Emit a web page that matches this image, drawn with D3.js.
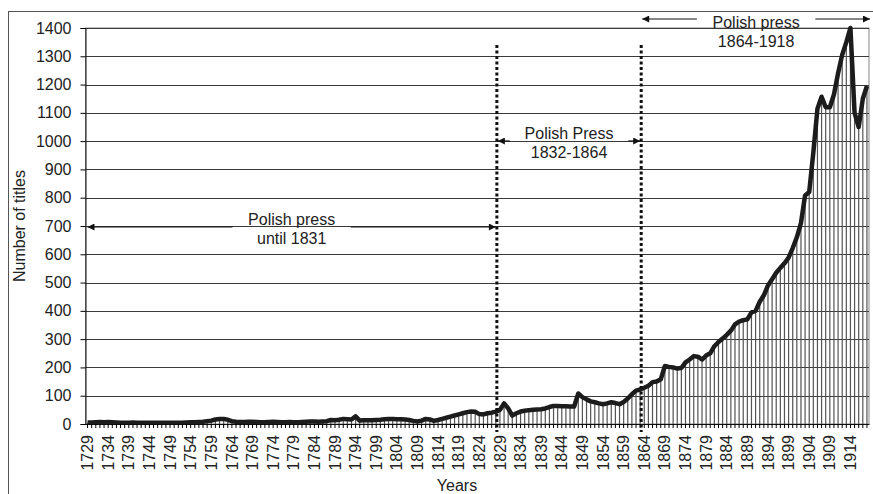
<!DOCTYPE html>
<html>
<head>
<meta charset="utf-8">
<script src="https://cdn.jsdelivr.net/npm/d3@7"></script>
<style>
  body { margin: 0; background: #fff; }
  text { font-family: "Liberation Sans", Arial, sans-serif; fill: #222; }
</style>
</head>
<body>
<div id="chart"></div>
<script>
// data: number of titles per year, split by period
const firstYear = 1729;
const titlesEarly = [5, 5, 6, 7, 6, 7, 6, 5, 4, 4,
  4, 5, 4, 4, 4, 4, 4, 4, 4, 4,
  4, 4, 4, 4, 5, 6, 6, 7, 8, 10,
  12, 16, 18, 18, 15, 10, 8, 7, 7, 8,
  8, 7, 6, 6, 7, 8, 7, 6, 6, 7];               // 1729-1778
const titlesUntil1831 = [6, 6, 7, 8, 9, 9, 8, 9, 10, 14,
  13, 15, 18, 17, 16, 27, 12, 13, 13, 13,
  14, 15, 17, 18, 18, 17, 17, 16, 14, 11,
  9, 12, 18, 16, 11, 14, 18, 22, 26, 30,
  34, 38, 42, 44, 43, 35, 34, 38, 40, 44,
  50, 73, 55];                                   // 1779-1831
const titles1832to1863 = [30, 38, 44, 47, 49, 50, 51, 52, 55, 60,
  64, 64, 63, 63, 62, 62, 108, 95, 87, 80,
  77, 73, 70, 73, 77, 74, 70, 78, 90, 105,
  118, 122];
const titles1864to1918 = [128, 135, 148, 150, 158, 205, 202, 200, 196, 198,
  218, 228, 240, 238, 228, 242, 250, 275, 290, 302,
  315, 330, 352, 362, 367, 370, 395, 400, 432, 455,
  490, 512, 535, 552, 568, 588, 622, 660, 710, 808,
  820, 960, 1115, 1157, 1120, 1120, 1165, 1240, 1305, 1350,
  1400, 1100, 1050, 1150, 1195];

const titles = titlesEarly.concat(titlesUntil1831, titles1832to1863, titles1864to1918);
const years = titles.map((v, i) => firstYear + i);
const data = years.map((y, i) => ({year: y, value: titles[i]}));

const yTicks = d3.range(0, 1401, 100);
const labelYears = years.filter(y => (y - firstYear) % 5 === 0);

// period annotations
const periods = [
  {from: 1729, to: 1829, lines: ["Polish press", "until 1831"], cy: 227, ty: 219},
  {from: 1829, to: 1864, lines: ["Polish Press", "1832-1864"], cy: 141, ty: 133},
  {from: 1864, to: 1919, lines: ["Polish press", "1864-1918"], cy: 19, ty: 22}
];
const dividers = [1829, 1864];

const W = 873, H = 494;
const margin = {top: 28, right: 4, bottom: 70, left: 85.5};
const width = 869 - margin.left, height = 424 - margin.top;

const svgRoot = d3.select("#chart").append("svg")
  .attr("width", W).attr("height", H);

// outer frame
svgRoot.append("rect")
  .attr("x", 8.5).attr("y", 11.5)
  .attr("width", 870).attr("height", 490)
  .attr("fill", "none").attr("stroke", "#555").attr("stroke-width", 1);

const svg = svgRoot.append("g")
  .attr("transform", `translate(${margin.left}, ${margin.top})`);

const x = d3.scaleBand()
  .domain(years)
  .range([0, width])
  .padding(0);

const y = d3.scaleLinear()
  .domain([0, 1400])
  .range([height, 0]);

const xc = d => x(d) + x.bandwidth() / 2;

// plot frame
svg.append("rect")
  .attr("x", 0).attr("y", 0).attr("width", width).attr("height", height)
  .attr("fill", "none").attr("stroke", "#888");

// grid
svg.append("g")
  .selectAll("line")
  .data(yTicks.slice(1))
  .join("line")
    .attr("x1", 0).attr("x2", width)
    .attr("y1", d => Math.round(y(d)) + 0.5).attr("y2", d => Math.round(y(d)) + 0.5)
    .attr("stroke", "#3a3a3a").attr("stroke-width", 1);

// thin bars
svg.append("g")
  .selectAll("rect")
  .data(data)
  .join("rect")
    .attr("x", d => xc(d.year) - 0.6)
    .attr("y", d => y(d.value))
    .attr("width", 1.2)
    .attr("height", d => height - y(d.value))
    .attr("fill", "#555");

// line
svg.append("path")
  .datum(data)
  .attr("fill", "none")
  .attr("stroke", "#1c1c1c")
  .attr("stroke-width", 4.5)
  .attr("stroke-linejoin", "round")
  .attr("d", d3.line().x(d => xc(d.year)).y(d => y(d.value)));

// Y axis
const yAxis = svg.append("g")
  .call(d3.axisLeft(y).tickValues(yTicks).tickFormat(d3.format("d")).tickSize(5).tickPadding(9));
yAxis.select(".domain").attr("stroke", "#111");
yAxis.selectAll("text")
  .style("font-size", "16px")
  .style("font-family", "Liberation Sans, Arial, sans-serif")
  .attr("fill", "#222");

// X axis
const xAxis = svg.append("g")
  .attr("transform", `translate(0, ${height})`)
  .call(d3.axisBottom(x).tickSizeInner(4).tickSizeOuter(0)
    .tickFormat(d => labelYears.includes(d) ? d : ""));
xAxis.select(".domain").attr("stroke", "#111");
xAxis.selectAll("text")
  .style("font-size", "16px")
  .style("font-family", "Liberation Sans, Arial, sans-serif")
  .attr("fill", "#222")
  .attr("transform", "rotate(-90)")
  .attr("x", -11)
  .attr("y", 0)
  .attr("dy", "0.35em")
  .style("text-anchor", "end");

// dotted dividers
svg.append("g")
  .selectAll("line")
  .data(dividers)
  .join("line")
    .attr("x1", d => x(d) - 1).attr("x2", d => x(d) - 1)
    .attr("y1", 17).attr("y2", height + 8)
    .attr("stroke", "#111").attr("stroke-width", 3)
    .attr("stroke-dasharray", "3,2.5");

// arrowheads
const defs = svgRoot.append("defs");
defs.append("marker")
  .attr("id", "arr")
  .attr("viewBox", "0 0 10 10")
  .attr("refX", 10).attr("refY", 5)
  .attr("markerWidth", 9).attr("markerHeight", 7)
  .attr("markerUnits", "userSpaceOnUse")
  .attr("orient", "auto-start-reverse")
  .append("path").attr("d", "M0,0 L10,5 L0,10 z").attr("fill", "#111");

// annotations
periods.forEach(p => {
  const x0 = p.from === firstYear ? 2 : x(p.from) + 0;
  const x1 = p.to > years[years.length - 1] ? width + 1 : x(p.to) - 2;
  const cx = (x0 + x1) / 2;
  const g = svgRoot.append("g").attr("transform", `translate(${margin.left}, 0)`);
  const t = g.append("text")
    .attr("x", cx).attr("y", p.ty)
    .attr("text-anchor", "middle")
    .style("font-size", "16px");
  p.lines.forEach((l, i) => {
    t.append("tspan").attr("x", cx).attr("dy", i === 0 ? "0.35em" : "1.2em").text(l);
  });
  const half = p.lines[0].length * 4.1 + 10;
  g.append("line")
    .attr("x1", cx - half).attr("x2", x0)
    .attr("y1", p.cy).attr("y2", p.cy)
    .attr("stroke", "#111").attr("stroke-width", 1.2)
    .attr("marker-end", "url(#arr)");
  g.append("line")
    .attr("x1", cx + half).attr("x2", x1)
    .attr("y1", p.cy).attr("y2", p.cy)
    .attr("stroke", "#111").attr("stroke-width", 1.2)
    .attr("marker-end", "url(#arr)");
});

// axis titles
svgRoot.append("text")
  .attr("transform", "translate(19, 226) rotate(-90)")
  .attr("text-anchor", "middle")
  .attr("dy", "0.35em")
  .style("font-size", "16px")
  .text("Number of titles");

svgRoot.append("text")
  .attr("x", 457).attr("y", 485)
  .attr("text-anchor", "middle")
  .attr("dy", "0.35em")
  .style("font-size", "16px")
  .text("Years");
</script>
</body>
</html>
